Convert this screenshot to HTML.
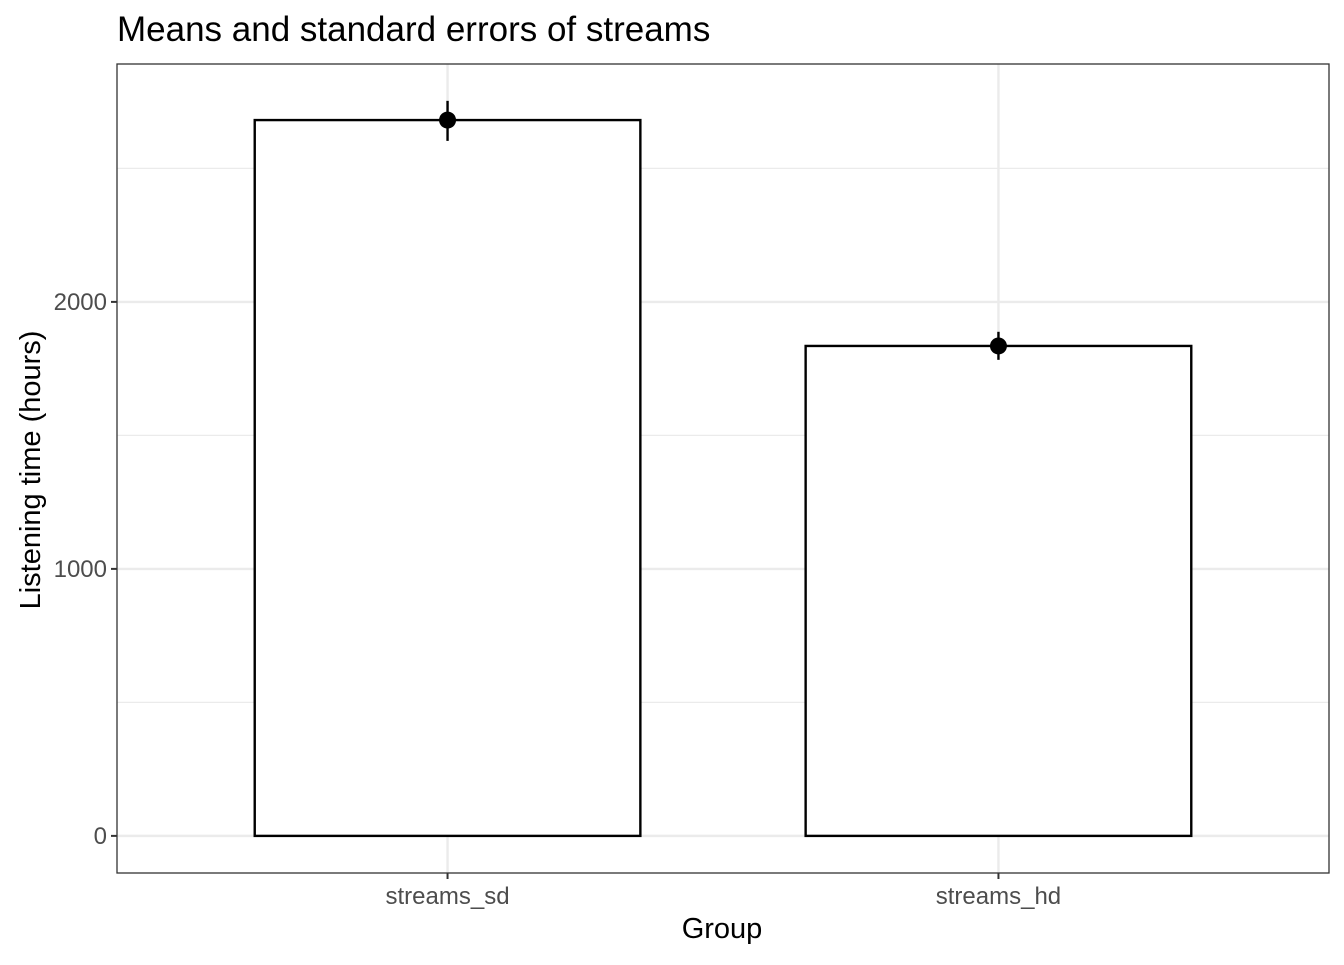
<!DOCTYPE html>
<html><head><meta charset="utf-8"><style>
body{margin:0;background:#fff;font-family:"Liberation Sans",sans-serif}
</style></head><body>
<svg id="c" width="1344" height="960" xmlns="http://www.w3.org/2000/svg">
<text x="117" y="41" font-size="35" fill="#000">Means and standard errors of streams</text>
<text x="722" y="938" font-size="29" text-anchor="middle">Group</text>
<text transform="translate(40,470) rotate(-90)" font-size="29" text-anchor="middle">Listening time (hours)</text>
<g id="grid"></g><g id="marks"></g>
<rect x="117" y="64" width="1212" height="809" fill="none" stroke="#333" stroke-width="1.3"/>
<g id="axes"></g>
</svg>
<script>
const categories=["streams_sd","streams_hd"];
const means=[2681,1835];
const seLow=[2603,1783];
const seHigh=[2753,1888];
const yTicks=[0,1000,2000];
const yMinor=[500,1500,2500];
const NS="http://www.w3.org/2000/svg";
const L=117,R=1329,T=64,B=873,y0=-139,y1=2891;
const y=v=>B-(v-y0)/(y1-y0)*(B-T);
const bw=(R-L)/2.2;
const x=i=>L+(0.6+i)*bw;
function mk(p,t,a){const e=document.createElementNS(NS,t);for(const k in a)e.setAttribute(k,a[k]);document.getElementById(p).appendChild(e);return e;}
yMinor.forEach(v=>{const e=mk('grid','line',{x1:L,x2:R,y1:y(v),y2:y(v),stroke:'#ebebeb','stroke-width':1.2});

});
yTicks.forEach(v=>{const e=mk('grid','line',{x1:L,x2:R,y1:y(v),y2:y(v),stroke:'#ebebeb','stroke-width':2.4});


const t=mk('axes','line',{x1:L-6,x2:L,y1:y(v),y2:y(v),stroke:'#333','stroke-width':2});


const l=mk('axes','text',{x:L-10,y:y(v)+8,'font-size':24,fill:'#4d4d4d','text-anchor':'end'});l.textContent=v;

});
categories.forEach((c,i)=>{const g=mk('grid','line',{x1:x(i),x2:x(i),y1:T,y2:B,stroke:'#ebebeb','stroke-width':2.4});


const b=mk('marks','rect',{x:x(i)-0.35*bw,width:0.7*bw,y:y(means[i]),height:y(0)-y(means[i]),fill:'#fff',stroke:'#000','stroke-width':2.4});


const e=mk('marks','line',{x1:x(i),x2:x(i),y1:y(seLow[i]),y2:y(seHigh[i]),stroke:'#000','stroke-width':2.4});


const p=mk('marks','circle',{cx:x(i),cy:y(means[i]),r:8.5,fill:'#000'});


const t=mk('axes','line',{x1:x(i),x2:x(i),y1:B,y2:B+6,stroke:'#333','stroke-width':2});


const l=mk('axes','text',{x:x(i),y:B+31,'font-size':24,fill:'#4d4d4d','text-anchor':'middle'});l.textContent=c;

});
</script>
</body></html>
